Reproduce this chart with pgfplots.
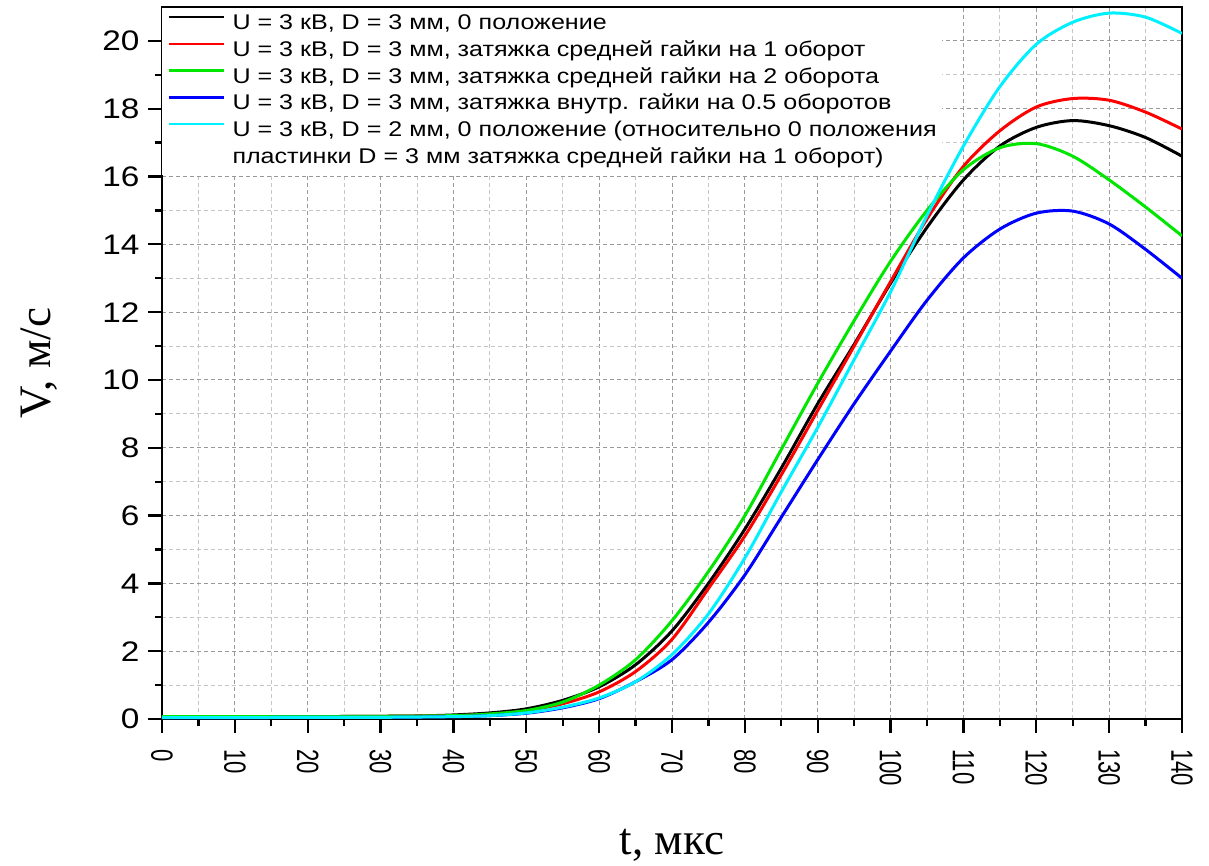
\documentclass[border=0pt]{standalone}
\usepackage{fontspec}
\setmainfont{Liberation Serif}
\newfontfamily\arialwide[FakeStretch=1.18]{Liberation Sans}
\newfontfamily\arialnarrow[FakeStretch=0.72]{Liberation Sans}
\usepackage{pgfplots}
\pgfplotsset{compat=1.18}
\definecolor{cBlack}{RGB}{0,0,0}
\definecolor{cRed}{RGB}{255,0,0}
\definecolor{cGreen}{RGB}{0,230,0}
\definecolor{cBlue}{RGB}{0,0,255}
\definecolor{cCyan}{RGB}{0,240,255}

\begin{document}
\begin{tikzpicture}
\useasboundingbox (-64.8pt,-58.4pt) rectangle (418.8pt,287.6pt);
\begin{axis}[
    at={(0,0)}, anchor=south west,
    width=408pt, height=284.8pt, scale only axis,
    xmin=0, xmax=140, ymin=0, ymax=21,
    xtick={0,10,...,140}, ytick={0,2,...,20},
    minor x tick num=1, minor y tick num=1,
    xtick pos=left, ytick pos=left,
    tick align=outside,
    major tick length=5.5pt, minor tick length=2.8pt,
    every tick/.style={black, line width=0.9pt},
    axis line style={line width=1pt},
    grid=both,
    major grid style={gray!80, line width=0.4pt, dash pattern=on 1.6pt off 1.2pt},
    minor grid style={gray!45, line width=0.4pt, dash pattern=on 1.6pt off 1.2pt},
    /pgf/number format/assume math mode=true,
    y tick label style={font=\arialwide\fontsize{11.3}{13}\selectfont},
    x tick label style={font=\arialnarrow\fontsize{12.3}{14}\selectfont, rotate=-90, anchor=west},
    xticklabel shift=3pt,
    xlabel={t, мкс},
    ylabel={V, м/с},
    xlabel style={at={(axis description cs:0.5,-0.177)}, anchor=center, font=\fontsize{18}{20}\selectfont},
    ylabel style={at={(axis description cs:-0.12,0.5)}, anchor=center, font=\fontsize{18}{20}\selectfont},
    legend cell align=left,
    legend image code/.code={\draw[#1, line width=1pt] (0pt,2.8pt) -- (22pt,2.8pt);},
    legend style={at={(0,1)}, anchor=north west, draw=none, fill=white,
        font=\arialwide\fontsize{8.5}{10}\selectfont,
        inner xsep=2pt, inner ysep=2.5pt, row sep=2.4pt,
        nodes={inner sep=0pt, text height=6.3pt, text depth=2pt},
        /tikz/every odd column/.append style={column sep=3pt}},
]
% black: 0 position
\addplot[cBlack, line width=1.2pt, smooth] coordinates {
(0,0.05)(10,0.06)(20,0.07)(30,0.08)(35,0.09)(40,0.12)(45,0.18)(50,0.3)(55,0.55)
(60,0.95)(65,1.6)(70,2.6)(75,4.0)(80,5.6)(85,7.4)(90,9.3)(95,11.05)(100,12.85)
(105,14.5)(110,15.9)(115,16.9)(120,17.45)(125,17.65)(130,17.5)(135,17.15)(140,16.6)};
\addlegendentry{U = 3 кВ, D = 3 мм, 0 положение}
% red
\addplot[cRed, line width=1.2pt, smooth] coordinates {
(0,0.05)(10,0.06)(20,0.07)(30,0.08)(40,0.1)(45,0.14)(50,0.24)(55,0.45)
(60,0.8)(65,1.4)(70,2.35)(75,3.85)(80,5.4)(85,7.2)(90,9.1)(95,11.0)(100,12.9)
(105,14.75)(110,16.3)(115,17.35)(120,18.05)(125,18.3)(130,18.25)(135,17.9)(140,17.4)};
\addlegendentry{U = 3 кВ, D = 3 мм, затяжка средней гайки на 1 оборот}
% green
\addplot[cGreen, line width=1.2pt, smooth] coordinates {
(0,0.07)(10,0.07)(20,0.07)(30,0.08)(40,0.1)(45,0.15)(50,0.25)(55,0.5)
(60,1.0)(65,1.75)(70,2.9)(75,4.35)(80,6.0)(85,7.95)(90,9.9)(95,11.75)(100,13.5)
(105,15.0)(110,16.2)(115,16.85)(120,16.97)(125,16.6)(130,15.9)(135,15.1)(140,14.25)};
\addlegendentry{U = 3 кВ, D = 3 мм, затяжка средней гайки на 2 оборота}
% blue
\addplot[cBlue, line width=1.2pt, smooth] coordinates {
(0,0.04)(10,0.04)(20,0.05)(30,0.05)(40,0.07)(45,0.1)(50,0.17)(55,0.33)
(60,0.6)(65,1.1)(70,1.75)(75,2.85)(80,4.25)(85,5.95)(90,7.65)(95,9.3)(100,10.85)
(105,12.35)(110,13.6)(115,14.45)(120,14.92)(125,14.98)(130,14.6)(135,13.85)(140,13.0)};
\addlegendentry{U = 3 кВ, D = 3 мм, затяжка внутр. гайки на 0.5 оборотов}
% cyan
\addplot[cCyan, line width=1.2pt, smooth] coordinates {
(0,0.04)(10,0.04)(20,0.05)(30,0.05)(40,0.07)(45,0.1)(50,0.18)(55,0.35)
(60,0.62)(65,1.1)(70,1.9)(75,3.1)(80,4.75)(85,6.7)(90,8.6)(95,10.6)(100,12.6)
(105,14.85)(110,16.9)(115,18.65)(120,19.9)(125,20.55)(130,20.82)(135,20.7)(140,20.22)};
\addlegendentry{U = 3 кВ, D = 2 мм, 0 положение (относительно 0 положения}
\addlegendimage{empty legend}
\addlegendentry{пластинки D = 3 мм затяжка средней гайки на 1 оборот)}
\end{axis}
% mirrored minor ticks on top and right
\begin{axis}[
    at={(0,0)}, anchor=south west,
    width=408pt, height=284.8pt, scale only axis,
    xmin=0, xmax=140, ymin=0, ymax=21,
    xtick=\empty, ytick=\empty,
    minor xtick={5,15,...,135}, minor ytick={1,3,...,19},
    xtick pos=right, ytick pos=right,
    tick align=inside, minor tick length=2.8pt,
    every tick/.style={black, line width=0.9pt},
    axis line style={draw=none},
]
\end{axis}
\end{tikzpicture}
\end{document}
